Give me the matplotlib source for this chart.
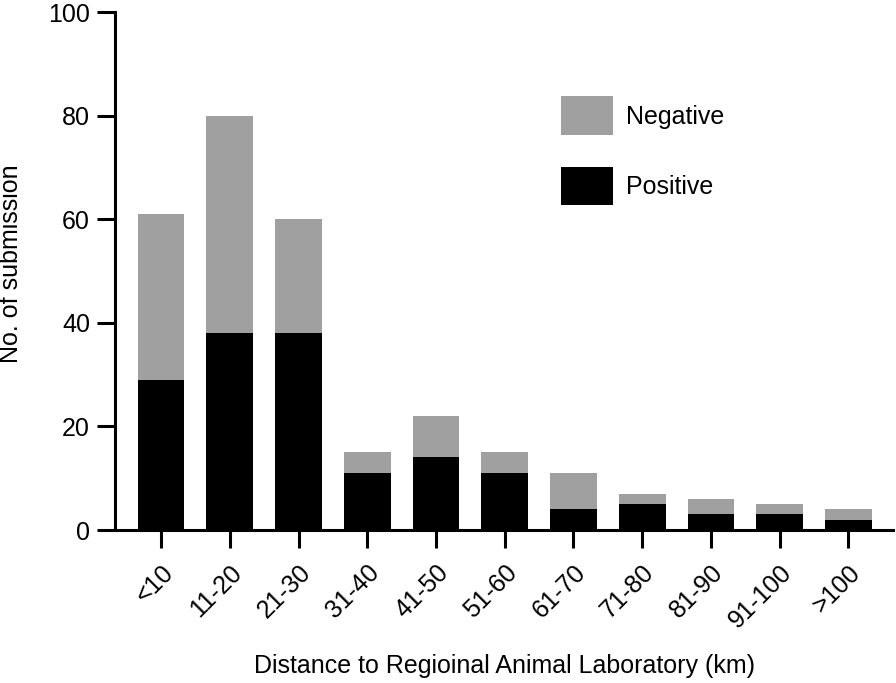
import matplotlib.pyplot as plt
import numpy as np
from matplotlib.patches import Patch

# distance bins and counts
categories = ["<10", "11-20", "21-30", "31-40", "41-50", "51-60",
              "61-70", "71-80", "81-90", "91-100", ">100"]
positive = [29, 38, 38, 11, 14, 11, 4, 5, 3, 3, 2]
negative = [32, 42, 22, 4, 8, 4, 7, 2, 3, 2, 2]

plt.rcParams["font.family"] = ["Liberation Sans", "DejaVu Sans"]

fig = plt.figure(figsize=(8.96, 6.83), dpi=100)
ax = fig.add_axes([115 / 896, 1 - 530 / 683, (893 - 115) / 896, (530 - 12) / 683])

x = np.arange(len(categories))
width = 0.68
ax.bar(x, positive, width, color="black", label="Positive")
ax.bar(x, negative, width, bottom=positive, color="#a0a0a0", label="Negative")

ax.set_xlim(-0.67, 10.65)
ax.set_ylim(0, 100)
ax.set_yticks([0, 20, 40, 60, 80, 100])
ax.set_xticks(x)
ax.set_xticklabels(categories, rotation=45, ha="right", rotation_mode="anchor")

for s in ["top", "right"]:
    ax.spines[s].set_visible(False)
for s in ["left", "bottom"]:
    ax.spines[s].set_linewidth(2.2)
ax.tick_params(axis="both", width=2.2, length=13, labelsize=18)
ax.tick_params(axis="y", pad=5)
ax.tick_params(axis="x", pad=9)

ax.set_ylabel("No. of submission", fontsize=18)
# label sits a bit above the axis middle in the original
ax.yaxis.set_label_coords(-0.118, 0.515)
ax.set_xlabel("Distance to Regioinal Animal Laboratory (km)", fontsize=18, labelpad=15)

handles = [Patch(facecolor="#a0a0a0", label="Negative"),
           Patch(facecolor="black", label="Positive")]
ax.legend(handles=handles, loc="upper left", bbox_to_anchor=(538 / 896, 1 - 74 / 683),
          bbox_transform=fig.transFigure, frameon=False, fontsize=18,
          handlelength=2.08, handleheight=1.97, labelspacing=1.3, handletextpad=0.55)

fig.savefig("out.png", dpi=100)
